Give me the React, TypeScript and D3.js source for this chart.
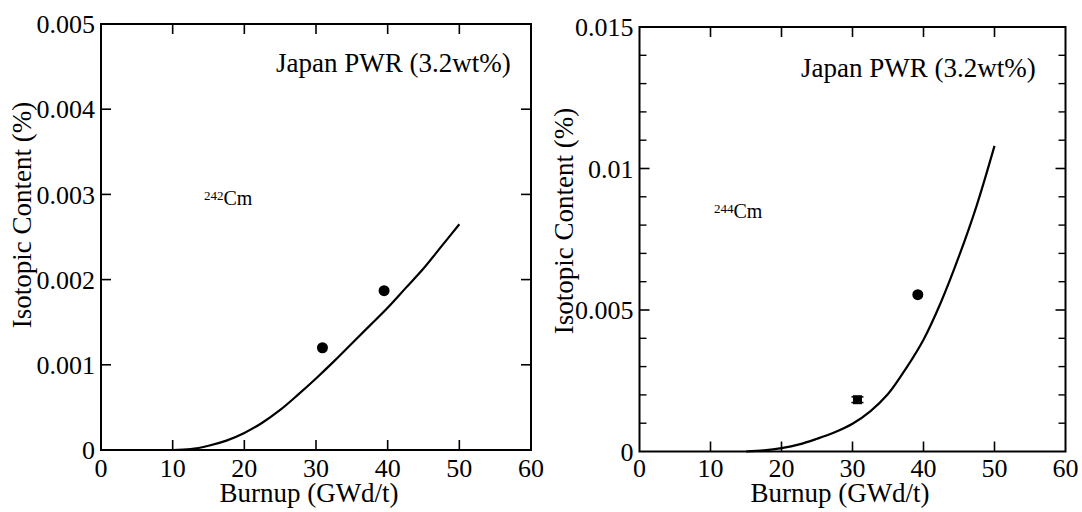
import React from "react";
import * as d3 from "d3";

// ---- Data ----
const xTicks = [0, 10, 20, 30, 40, 50, 60];

// Left panel: 242Cm
const cm242Ticks = [0, 0.001, 0.002, 0.003, 0.004, 0.005];
const cm242CurveX = [10, 12.5, 15, 17.5, 20, 22.5, 25, 27.5, 30, 32.5, 35, 37.5, 40, 42.5, 45, 47.5, 50];
const cm242CurveY = [0, 0.00001, 0.00005, 0.00011, 0.0002, 0.00032, 0.00047, 0.00065, 0.00084, 0.00104, 0.00125, 0.00146, 0.00167, 0.0019, 0.00213, 0.00239, 0.00265];
const cm242PointsX = [30.9, 39.5];
const cm242PointsY = [0.0012, 0.00187];

// Right panel: 244Cm
const cm244MajorTicks = [0, 0.005, 0.01, 0.015];
const cm244MinorTicks = [0.001, 0.002, 0.003, 0.004, 0.006, 0.007, 0.008, 0.009, 0.011, 0.012, 0.013, 0.014];
const cm244CurveX = [15, 17.5, 20, 22.5, 25, 27.5, 30, 32.5, 35, 37.5, 40, 42.5, 45, 47.5, 50];
const cm244CurveY = [0, 0.00004, 0.00012, 0.00025, 0.00045, 0.00068, 0.00098, 0.00142, 0.00203, 0.00292, 0.00395, 0.0053, 0.0069, 0.0087, 0.0108];
const cm244CircleX = [39.2];
const cm244CircleY = [0.00554];
const cm244SquareX = [30.7];
const cm244SquareY = [0.00183];
const cm244SquareErr = [0.0001];

const FS = { fontFamily: '"Liberation Serif"' };
const fmt = d3.format("~g");

type PanelProps = {
  x0: number; x1: number; yTop: number; yBot: number;
  yMax: number;
  majors: number[]; minors: number[];
  curveX: number[]; curveY: number[];
  title: { x: number; y: number };
  iso: { mass: string; x: number; y: number };
  yTitle: { x: number; y: number };
  xTitle: { x: number; y: number };
  children?: (x: d3.ScaleLinear<number, number>, y: d3.ScaleLinear<number, number>) => React.ReactNode;
};

function Panel(p: PanelProps) {
  const x = d3.scaleLinear().domain([0, 60]).range([p.x0, p.x1]);
  const y = d3.scaleLinear().domain([0, p.yMax]).range([p.yBot, p.yTop]);
  const line = d3
    .line<number>()
    .x((_, i) => x(p.curveX[i]))
    .y((d) => y(d))
    .curve(d3.curveCatmullRom.alpha(0.5));
  const inner = xTicks.slice(1, -1);
  const innerY = p.majors.slice(1, -1);
  const TL = 10;
  const TM = 7;
  return (
    <g>
      <rect x={p.x0} y={p.yTop} width={p.x1 - p.x0} height={p.yBot - p.yTop} fill="none" stroke="#000" strokeWidth={2} />
      {inner.map((t) => (
        <g key={"xt" + t}>
          <line x1={x(t)} x2={x(t)} y1={p.yBot} y2={p.yBot - TL} stroke="#000" strokeWidth={1.6} />
          <line x1={x(t)} x2={x(t)} y1={p.yTop} y2={p.yTop + TL} stroke="#000" strokeWidth={1.6} />
        </g>
      ))}
      {innerY.map((t) => (
        <g key={"yt" + t}>
          <line x1={p.x0} x2={p.x0 + TL} y1={y(t)} y2={y(t)} stroke="#000" strokeWidth={1.6} />
          <line x1={p.x1} x2={p.x1 - TL} y1={y(t)} y2={y(t)} stroke="#000" strokeWidth={1.6} />
        </g>
      ))}
      {p.minors.map((t) => (
        <g key={"ym" + t}>
          <line x1={p.x0} x2={p.x0 + TM} y1={y(t)} y2={y(t)} stroke="#000" strokeWidth={1.4} />
          <line x1={p.x1} x2={p.x1 - TM} y1={y(t)} y2={y(t)} stroke="#000" strokeWidth={1.4} />
        </g>
      ))}
      {xTicks.map((t) => (
        <text key={"xl" + t} x={x(t)} y={477} textAnchor="middle" fontSize={26} style={FS} fill="#000">
          {t}
        </text>
      ))}
      {p.majors.map((t) => (
        <text key={"yl" + t} x={p.x0 - 6} y={y(t)} dy="0.35em" textAnchor="end" fontSize={26} style={FS} fill="#000">
          {fmt(t)}
        </text>
      ))}
      <text x={p.xTitle.x} y={p.xTitle.y} textAnchor="middle" fontSize={27} style={FS} fill="#000">
        Burnup (GWd/t)
      </text>
      <text
        transform={`translate(${p.yTitle.x},${p.yTitle.y}) rotate(-90)`}
        textAnchor="middle"
        fontSize={27}
        style={FS}
        fill="#000"
      >
        Isotopic Content (%)
      </text>
      <text x={p.title.x} y={p.title.y} fontSize={27} style={FS} fill="#000">
        Japan PWR (3.2wt%)
      </text>
      <text x={p.iso.x} y={p.iso.y} fontSize={20} style={FS} fill="#000">
        <tspan fontSize={13} dy={-5}>{p.iso.mass}</tspan>
        <tspan fontSize={20} dy={5}>Cm</tspan>
      </text>
      <path d={line(p.curveY) || ""} fill="none" stroke="#000" strokeWidth={2.2} />
      {p.children && p.children(x, y)}
    </g>
  );
}

export default function App() {
  return (
    <svg width={1082} height={512} style={{ position: "absolute", left: 0, top: 0, background: "#fff" }}>
      <rect width={1082} height={512} fill="#fff" />
      <Panel
        x0={101}
        x1={531}
        yTop={24}
        yBot={450}
        yMax={0.005}
        majors={cm242Ticks}
        minors={[]}
        curveX={cm242CurveX}
        curveY={cm242CurveY}
        title={{ x: 276, y: 72 }}
        iso={{ mass: "242", x: 204, y: 205 }}
        yTitle={{ x: 31, y: 215 }}
        xTitle={{ x: 309, y: 502 }}
      >
        {(x, y) =>
          cm242PointsX.map((v, i) => <circle key={i} cx={x(v)} cy={y(cm242PointsY[i])} r={5.5} fill="#000" />)
        }
      </Panel>
      <Panel
        x0={639.5}
        x1={1065.5}
        yTop={27}
        yBot={451.5}
        yMax={0.015}
        majors={cm244MajorTicks}
        minors={cm244MinorTicks}
        curveX={cm244CurveX}
        curveY={cm244CurveY}
        title={{ x: 801, y: 77 }}
        iso={{ mass: "244", x: 714, y: 218 }}
        yTitle={{ x: 573, y: 221 }}
        xTitle={{ x: 840, y: 502 }}
      >
        {(x, y) => (
          <g>
            {cm244CircleX.map((v, i) => (
              <circle key={"c" + i} cx={x(v)} cy={y(cm244CircleY[i])} r={5.5} fill="#000" />
            ))}
            {cm244SquareX.map((v, i) => {
              const cx = x(v);
              const cy = y(cm244SquareY[i]);
              const lo = y(cm244SquareY[i] - cm244SquareErr[i]);
              const hi = y(cm244SquareY[i] + cm244SquareErr[i]);
              return (
                <g key={"s" + i}>
                  <line x1={cx} x2={cx} y1={lo} y2={hi} stroke="#000" strokeWidth={1.5} />
                  <line x1={cx - 6} x2={cx + 6} y1={lo} y2={lo} stroke="#000" strokeWidth={1.5} />
                  <line x1={cx - 6} x2={cx + 6} y1={hi} y2={hi} stroke="#000" strokeWidth={1.5} />
                  <rect x={cx - 4.5} y={cy - 4.5} width={9} height={9} fill="#000" />
                </g>
              );
            })}
          </g>
        )}
      </Panel>
    </svg>
  );
}
